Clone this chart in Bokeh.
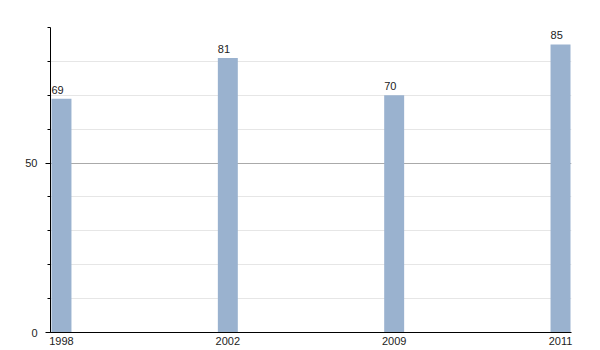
from bokeh.plotting import figure
from bokeh.models import FixedTicker, Range1d, ColumnDataSource
from bokeh.embed import file_html
from bokeh.resources import INLINE
from bokeh.core.properties import value

years = ["1998", "2002", "2009", "2011"]
values = [69, 81, 70, 85]

xs = list(range(len(years)))
src = ColumnDataSource(dict(x=xs, top=values, label=[str(v) for v in values],
                            xl=[x - 0.06 for x in xs]))

p = figure(frame_width=521, frame_height=305, output_backend="svg", toolbar_location=None,
           x_range=Range1d(-0.066, 3.066), y_range=Range1d(0, 90),
           min_border_left=50, min_border_right=29, min_border_top=27, min_border_bottom=18)
p.outline_line_color = None
p.background_fill_color = "white"
p.border_fill_color = "white"

p.vbar(x="x", top="top", bottom=0, width=0.12, source=src,
       fill_color="#9ab2cf", line_color=None)
p.text(x="xl", y="top", text="label", source=src, text_align="left",
       text_baseline="bottom", y_offset=-5, text_font_size="11px",
       text_font=value("Liberation Sans"), text_color="#222222")

# x axis
p.xaxis.ticker = FixedTicker(ticks=xs)
p.xaxis.major_label_overrides = {i: y for i, y in enumerate(years)}
p.xaxis.major_tick_line_color = None
p.xaxis.major_tick_out = 0
p.xaxis.major_tick_in = 0
p.xaxis.minor_tick_line_color = None
p.xaxis.minor_tick_out = 0
p.xaxis.axis_line_color = "black"
p.xaxis.major_label_standoff = 4
p.xaxis.major_label_text_font = "Liberation Sans"
p.xaxis.major_label_text_font_size = "11px"
p.xaxis.major_label_text_color = "#222222"
p.xgrid.grid_line_color = None

# y axis
yt = FixedTicker(ticks=[0, 50], minor_ticks=list(range(0, 91, 10)))
p.yaxis.ticker = yt
p.yaxis.axis_line_color = "black"
p.yaxis.major_tick_out = 5
p.yaxis.major_tick_in = 0
p.yaxis.minor_tick_out = 3
p.yaxis.minor_tick_in = 0
p.yaxis.minor_tick_line_color = "black"
p.yaxis.major_label_standoff = 8
p.yaxis.major_label_text_font = "Liberation Sans"
p.yaxis.major_label_text_font_size = "11px"
p.yaxis.major_label_text_color = "#222222"
p.ygrid.ticker = yt
p.ygrid.grid_line_color = "#aaaaaa"
p.ygrid.minor_grid_line_color = "#e6e6e6"

open("out.html", "w").write(file_html(p, INLINE))
